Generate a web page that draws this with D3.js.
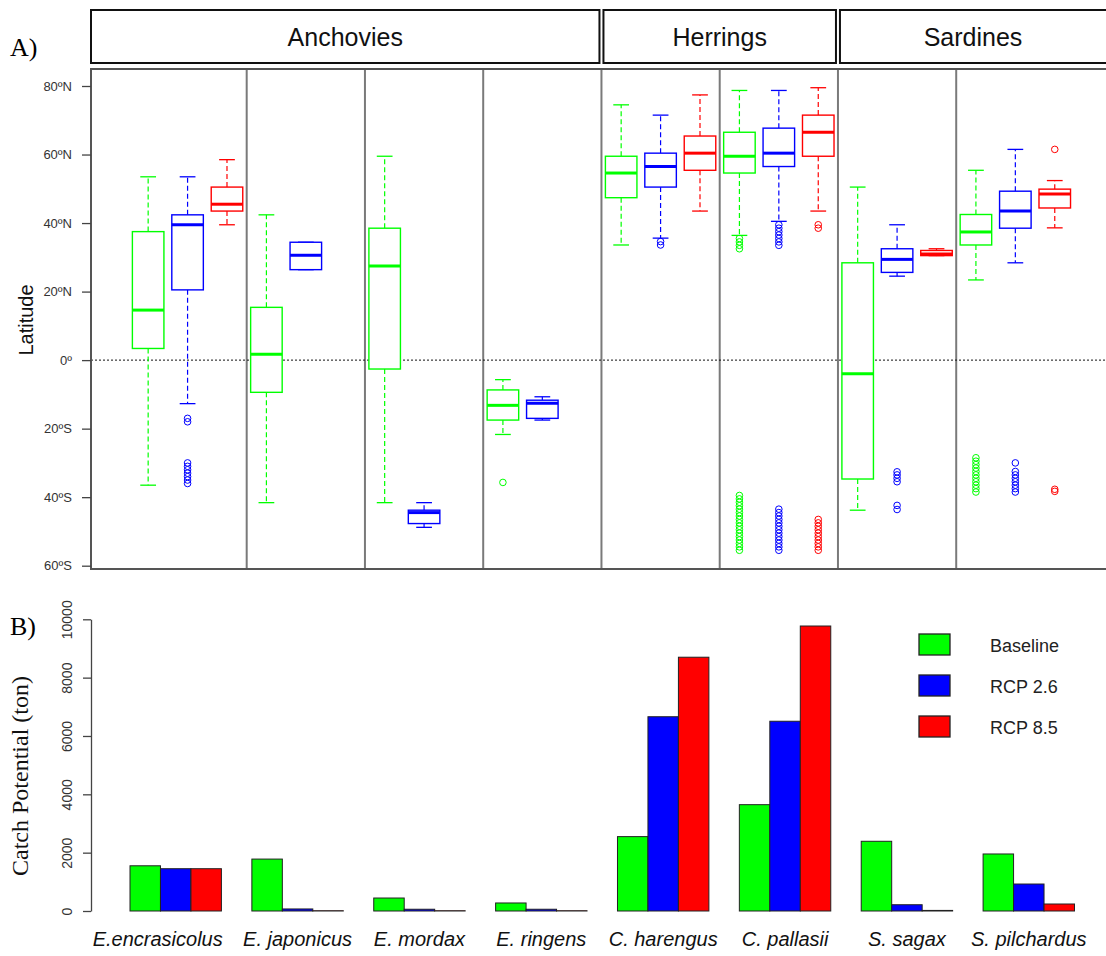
<!DOCTYPE html>
<html>
<head>
<meta charset="utf-8">
<script src="https://cdn.jsdelivr.net/npm/d3@7"></script>
<style>
body { margin: 0; background: #fff; }
svg { display: block; }
</style>
</head>
<body>
<div id="chart"></div>
<script>
var species = ["E.encrasicolus", "E. japonicus", "E. mordax", "E. ringens", "C. harengus", "C. pallasii", "S. sagax", "S. pilchardus"];
var scenarios = ["Baseline", "RCP 2.6", "RCP 8.5"];
var scenarioColors = ["#00ff00", "#0000ff", "#ff0000"];
var families = ["Anchovies", "Herrings", "Sardines"];
var familySize = [4, 2, 2];

// latitude boxes: [lower whisker, Q1, median, Q3, upper whisker]
var boxBaseline = [
  [-36.5, 3.4, 14.6, 37.5, 53.5],
  [-41.6, -9.4, 1.7, 15.4, 42.4],
  [-41.6, -2.6, 27.5, 38.5, 59.5],
  [-21.7, -17.5, -13.2, -8.7, -5.7],
  [33.6, 47.4, 54.6, 59.5, 74.5],
  [36.4, 54.6, 59.5, 66.5, 78.7],
  [-43.8, -34.7, -4.0, 28.4, 50.5],
  [23.4, 33.6, 37.4, 42.5, 55.4]
];
var boxRcp26 = [
  [-12.7, 20.5, 39.5, 42.4, 53.5],
  [26.4, 26.4, 30.6, 34.4, 34.4],
  [-48.8, -47.7, -44.5, -43.8, -41.6],
  [-17.5, -17.0, -12.6, -11.7, -10.7],
  [35.6, 50.5, 56.5, 60.4, 71.5],
  [40.5, 56.5, 60.4, 67.7, 78.7],
  [24.5, 25.6, 29.4, 32.5, 39.5],
  [28.4, 38.5, 43.5, 49.3, 61.5]
];
var boxRcp85 = [
  [39.5, 43.5, 45.5, 50.5, 58.5],
  null,
  null,
  null,
  [43.5, 55.4, 60.4, 65.4, 77.4],
  [43.5, 59.5, 66.5, 71.5, 79.5],
  [30.5, 30.5, 31.0, 32.0, 32.5],
  [38.6, 44.4, 48.5, 49.9, 52.4]
];
var outBaseline = [
  [],
  [],
  [],
  [-35.7],
  [],
  [35.5, 34.5, 33.5, 32.5, -39.5, -40.5, -41.5, -42.5, -43.5, -44.5, -45.5, -46.5, -47.5, -48.5, -49.5, -50.5, -51.5, -52.5, -53.5, -54.5, -55.5],
  [],
  [-28.5, -29.5, -30.5, -31.5, -32.5, -33.5, -34.5, -35.5, -36.5, -37.5, -38.5]
];
var outRcp26 = [
  [-17, -18, -30, -31, -32, -33, -34, -35, -36],
  [],
  [],
  [],
  [34.6, 33.6],
  [39.5, 38.5, 37.5, 36.5, 35.5, 34.5, 33.5, -43.5, -44.5, -45.5, -46.5, -47.5, -48.5, -49.5, -50.5, -51.5, -52.5, -53.5, -54.5, -55.5],
  [-32.6, -33.5, -34.5, -35.5, -42.4, -43.6],
  [-30, -32.5, -33.5, -34.5, -35.5, -36.5, -37.5, -38.5]
];
var outRcp85 = [
  [],
  [],
  [],
  [],
  [],
  [39.5, 38.5, -46.5, -47.5, -48.5, -49.5, -50.5, -51.5, -52.5, -53.5, -54.5, -55.5],
  [],
  [61.5, -37.7, -38.3]
];
var latTicks = [80, 60, 40, 20, 0, -20, -40, -60];

// catch potential (ton)
var catchBaseline = [1550, 1780, 445, 275, 2550, 3645, 2390, 1955];
var catchRcp26 = [1450, 70, 60, 60, 6660, 6505, 215, 925];
var catchRcp85 = [1450, 10, 10, 10, 8700, 9770, 20, 240];
var catchTicks = [0, 2000, 4000, 6000, 8000, 10000];

var boxSets = [boxBaseline, boxRcp26, boxRcp85];
var outSets = [outBaseline, outRcp26, outRcp85];
var catchSets = [catchBaseline, catchRcp26, catchRcp85];

var W = 1106, H = 956;
var sans = "'Liberation Sans', Arial, sans-serif";
var serif = "'Liberation Serif', 'Times New Roman', serif";

var svg = d3.select("#chart").append("svg").attr("width", W).attr("height", H);

// ---------- panel A ----------
var left = 91, topA = 69, bottomA = 569;
var xA = d3.scaleLinear().domain([-0.45, 25.3]).range([left, W]);
var yA = d3.scaleLinear().domain([-60, 80]).range([565.7, 86]);
var boxW = xA(0.8) - xA(0);
var capW = boxW / 2;

svg.append("text").attr("x", 10).attr("y", 56).style("font-family", serif).style("font-size", "26px").text("A)");

// family headers
var start = 0;
families.forEach(function(f, k) {
  var end = start + familySize[k];
  var x0 = start === 0 ? left : xA(start * 3 + 0.5) + 2;
  var x1 = end === species.length ? W + 4 : xA(end * 3 + 0.5) - 2;
  svg.append("rect").attr("x", x0).attr("y", 10).attr("width", x1 - x0).attr("height", 53)
    .style("fill", "none").style("stroke", "#111").style("stroke-width", 2);
  svg.append("text").attr("x", (x0 + x1) / 2 - (end === species.length ? 2 : 0)).attr("y", 46)
    .attr("text-anchor", "middle").style("font-family", sans).style("font-size", "25px").style("fill", "#111").text(f);
  start = end;
});

// species separators
d3.range(1, species.length).forEach(function(k) {
  svg.append("line").attr("x1", xA(k * 3 + 0.5)).attr("x2", xA(k * 3 + 0.5)).attr("y1", topA).attr("y2", bottomA)
    .style("stroke", "#7a7a7a").style("stroke-width", 2);
});

// zero line
svg.append("line").attr("x1", left).attr("x2", W).attr("y1", yA(0)).attr("y2", yA(0))
  .style("stroke", "#111").style("stroke-width", 1).style("stroke-dasharray", "2,2");

// boxplots
var gBox = svg.append("g");
species.forEach(function(sp, i) {
  scenarios.forEach(function(sc, s) {
    var b = boxSets[s][i];
    if (!b) return;
    var col = scenarioColors[s];
    var cx = xA(i * 3 + s + 1);
    var g = gBox.append("g");
    g.append("line").attr("x1", cx).attr("x2", cx).attr("y1", yA(b[3])).attr("y2", yA(b[4]))
      .style("stroke", col).style("stroke-width", 1.2).style("stroke-dasharray", "5,3");
    g.append("line").attr("x1", cx).attr("x2", cx).attr("y1", yA(b[1])).attr("y2", yA(b[0]))
      .style("stroke", col).style("stroke-width", 1.2).style("stroke-dasharray", "5,3");
    [b[0], b[4]].forEach(function(v) {
      g.append("line").attr("x1", cx - capW / 2).attr("x2", cx + capW / 2).attr("y1", yA(v)).attr("y2", yA(v))
        .style("stroke", col).style("stroke-width", 1.3);
    });
    g.append("rect").attr("x", cx - boxW / 2).attr("y", yA(b[3])).attr("width", boxW).attr("height", yA(b[1]) - yA(b[3]))
      .style("fill", "#fff").style("stroke", col).style("stroke-width", 1.4);
    g.append("line").attr("x1", cx - boxW / 2).attr("x2", cx + boxW / 2).attr("y1", yA(b[2])).attr("y2", yA(b[2]))
      .style("stroke", col).style("stroke-width", 3);
    g.selectAll("circle").data(outSets[s][i]).enter().append("circle")
      .attr("cx", cx).attr("cy", function(d) { return yA(d); }).attr("r", 3.3)
      .style("fill", "none").style("stroke", col).style("stroke-width", 1);
  });
});

// frame
svg.append("path").attr("d", "M" + W + "," + topA + "H" + left + "V" + bottomA + "H" + W)
  .style("fill", "none").style("stroke", "#555").style("stroke-width", 2);

var latFmt = function(d) { return d === 0 ? "0º" : Math.abs(d) + "º" + (d > 0 ? "N" : "S"); };
var axA = svg.append("g").attr("transform", "translate(" + left + ",0)")
  .call(d3.axisLeft(yA).tickValues(latTicks).tickFormat(latFmt).tickSize(9).tickPadding(10));
axA.select(".domain").remove();
axA.selectAll("line").style("stroke", "#444").style("stroke-width", 1.3);
axA.selectAll("text").style("font-family", sans).style("font-size", "13px").style("fill", "#333");

svg.append("text").attr("transform", "translate(33,320) rotate(-90)").attr("text-anchor", "middle")
  .style("font-family", sans).style("font-size", "20px").style("fill", "#111").text("Latitude");

// ---------- panel B ----------
var yB = d3.scaleLinear().domain([0, 10000]).range([911, 619.3]);
var xB = d3.scaleBand().domain(species).range([130, 1074.5]).paddingInner(0.25).paddingOuter(0);
var xS = d3.scaleBand().domain(scenarios).range([0, xB.bandwidth()]);

svg.append("text").attr("x", 10).attr("y", 635).style("font-family", serif).style("font-size", "26px").text("B)");

var axB = svg.append("g").attr("transform", "translate(" + left + ",0)")
  .call(d3.axisLeft(yB).tickValues(catchTicks).tickFormat(d3.format("d")).tickSize(8).tickSizeOuter(0));
axB.selectAll("line, .domain").style("stroke", "#444").style("stroke-width", 1.3);
axB.selectAll("text").attr("x", 0).attr("y", -19).attr("dy", 0).attr("transform", "rotate(-90)")
  .attr("text-anchor", "middle").style("font-family", sans).style("font-size", "14px").style("fill", "#333");

svg.append("text").attr("transform", "translate(28,776) rotate(-90)").attr("text-anchor", "middle")
  .style("font-family", serif).style("font-size", "24px").style("fill", "#111").text("Catch Potential (ton)");

var gBar = svg.append("g").selectAll("g").data(species).enter().append("g")
  .attr("transform", function(d) { return "translate(" + xB(d) + ",0)"; });
gBar.selectAll("rect").data(function(d, i) {
    return scenarios.map(function(sc, s) { return { sc: sc, s: s, v: catchSets[s][i] }; });
  }).enter().append("rect")
  .attr("x", function(d) { return xS(d.sc); })
  .attr("y", function(d) { return yB(d.v); })
  .attr("width", xS.bandwidth())
  .attr("height", function(d) { return yB(0) - yB(d.v); })
  .style("fill", function(d) { return scenarioColors[d.s]; })
  .style("stroke", "#222").style("stroke-width", 1);

svg.append("g").selectAll("text").data(species).enter().append("text")
  .attr("x", function(d) { return xB(d) + xB.bandwidth() / 2; })
  .attr("dx", function(d, i) { return i === 0 ? -18 : 0; })
  .attr("y", 946).attr("text-anchor", "middle")
  .style("font-family", sans).style("font-size", "20px").style("font-style", "italic").style("fill", "#111")
  .text(function(d) { return d; });

// legend
var legend = svg.append("g").attr("transform", "translate(919,634)");
legend.selectAll("rect").data(scenarios).enter().append("rect")
  .attr("x", 0).attr("y", function(d, i) { return i * 41; }).attr("width", 31).attr("height", 21)
  .style("fill", function(d, i) { return scenarioColors[i]; }).style("stroke", "#222").style("stroke-width", 1.3);
legend.selectAll("text").data(scenarios).enter().append("text")
  .attr("x", 71).attr("y", function(d, i) { return i * 41 + 18; })
  .style("font-family", sans).style("font-size", "18px").style("fill", "#222")
  .text(function(d) { return d; });
</script>
</body>
</html>
